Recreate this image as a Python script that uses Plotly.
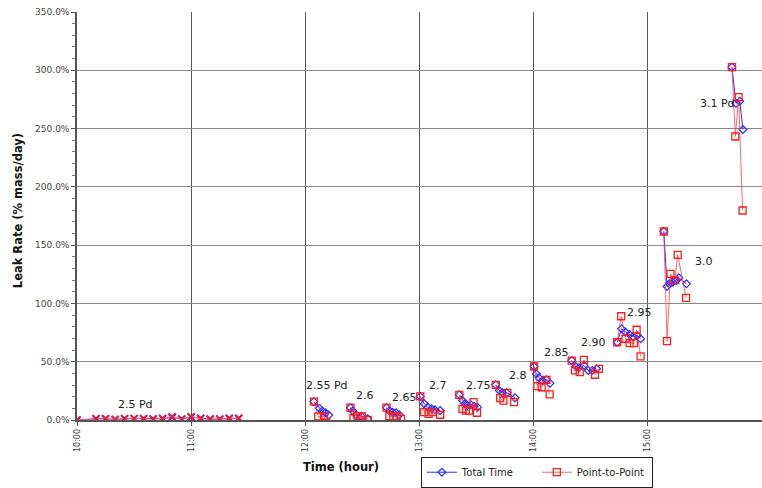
import plotly.graph_objects as go

# --- 2.5 Pd run (minutes after 10:00, leak rate in % mass/day) ---
PD25_MIN = [0, 10, 15, 20, 25, 30, 35, 40, 45, 50, 55, 60, 65, 70, 75, 80, 85]
PD25_TOTAL = [0, 1.2, 1.0, 0.5, 1.2, 1.2, 1.2, 0.8, 1.3, 2.2, 0.8, 2.5, 1.5, 0.8, 0.8, 1.5, 1.5]
PD25_P2P = [0, 1.0, 1.0, 0.5, 1.0, 1.3, 1.0, 0.8, 1.3, 3.0, 0.6, 3.0, 1.2, 0.5, 0.8, 1.2, 1.2]

# --- Pressure steps 2.55 Pd ... 3.1 Pd, runs separated by None ---
TOTAL_MIN = [
    124.5, 127.4, 128.9, 130.6, 132.3, None,
    143.7, 144.9, 146.7, 149.3, 152.8, None,
    162.7, 164.2, 165.9, 167.7, 169.4, None,
    180.4, 182.5, 184.3, 186.3, 188.1, 190.9, None,
    200.9, 202.6, 203.9, 205.2, 207.0, 208.7, 210.5, None,
    220.1, 221.9, 223.6, 225.9, 230.2, None,
    240.2, 241.4, 242.8, 244.6, 246.7, 248.6, None,
    260.0, 262.1, 263.8, 266.4, 268.7, 270.8, 273.1, None,
    283.9, 286.2, 288.3, 290.4, 292.3, 294.4, 296.2, None,
    308.4, 310.1, 311.4, 313.1, 314.8, 316.3, 320.3, None,
    344.2, 346.3, 348.3, 350.0,
]
TOTAL_VAL = [
    15.7, 10.0, 7.7, 6.3, 4.3, None,
    10.6, 7.7, 4.6, 3.4, 1.0, None,
    10.6, 7.9, 6.7, 6.2, 4.5, None,
    20.2, 13.9, 11.0, 9.6, 8.7, 8.1, None,
    21.6, 16.7, 13.9, 12.4, 13.0, 11.8, 11.0, None,
    30.2, 25.3, 23.3, 23.3, 19.0, None,
    45.9, 39.6, 36.2, 33.9, 34.5, 31.6, None,
    51.0, 45.9, 44.8, 46.8, 42.5, 42.5, 43.9, None,
    66.7, 78.2, 75.3, 73.3, 71.6, 72.5, 69.7, None,
    161.7, 114.5, 116.8, 118.2, 119.7, 122.0, 116.8, None,
    302.7, 271.8, 273.5, 249.2,
]
P2P_MIN = [
    124.5, 126.8, 129.8, 131.0, None,
    143.7, 145.3, 147.5, 149.8, 152.8, None,
    162.7, 164.2, 166.3, 168.0, 170.3, None,
    180.4, 182.5, 184.8, 186.9, 190.9, None,
    200.9, 202.6, 204.4, 206.1, 208.4, 210.2, None,
    220.1, 222.4, 224.1, 226.2, 229.7, None,
    240.2, 241.9, 244.2, 246.7, 248.4, None,
    260.0, 261.7, 264.2, 266.4, 272.2, 274.3, None,
    283.9, 286.0, 288.3, 290.4, 292.7, 294.1, 296.2, None,
    308.4, 310.1, 311.9, 314.2, 315.7, 320.1, None,
    344.2, 346.0, 347.7, 349.8,
]
P2P_VAL = [
    15.7, 3.0, 3.0, -2.0, None,
    10.6, 1.5, 3.2, 3.0, 0.0, None,
    10.6, 3.2, 3.0, 3.2, 0.9, None,
    20.2, 6.7, 5.3, 6.7, 4.5, None,
    21.6, 9.6, 8.1, 8.1, 15.3, 6.2, None,
    30.2, 18.7, 16.7, 23.3, 15.3, None,
    45.9, 29.0, 28.1, 34.5, 21.9, None,
    51.0, 42.5, 41.0, 51.6, 38.8, 43.9, None,
    66.7, 89.0, 69.7, 65.9, 65.9, 77.4, 54.5, None,
    161.7, 67.6, 125.4, 119.7, 141.7, 104.8, None,
    302.7, 243.2, 276.9, 179.7,
]

# --- Pressure step labels ---
STEP_LABELS = ["2.5 Pd", "2.55 Pd", "2.6", "2.65", "2.7", "2.75", "2.8",
               "2.85", "2.90", "2.95", "3.0", "3.1 Pd"]
STEP_LABEL_MIN = [30.9, 131.6, 151.6, 172.0, 189.9, 210.8, 231.8,
                  251.8, 271.7, 295.5, 329.4, 336.7]
STEP_LABEL_VAL = [12.9, 30.0, 20.6, 19.7, 30.0, 30.0, 38.6,
                  57.5, 66.1, 91.8, 136.4, 271.9]

HOUR_TICKS = [10, 11, 12, 13, 14, 15, 16]
HOUR_TEXT = ["10:00", "11:00", "12:00", "13:00", "14:00", "15:00", "16:00"]


def to_hours(minutes):
    return [None if m is None else 10 + m / 60 for m in minutes]


BLUE = "#2a2aff"
RED = "#ff1a1a"
FONT = "DejaVu Sans"

fig = go.Figure()

fig.add_trace(go.Scatter(
    x=to_hours(PD25_MIN), y=PD25_TOTAL, mode="lines+markers",
    line=dict(color=BLUE, width=1),
    marker=dict(symbol="x-thin-open", size=7, color=BLUE, line=dict(width=2, color=BLUE)),
    showlegend=False, hoverinfo="skip"))
fig.add_trace(go.Scatter(
    x=to_hours(PD25_MIN), y=PD25_P2P, mode="lines+markers",
    line=dict(color="#ff5a8c", width=1),
    marker=dict(symbol="x-thin-open", size=7, color=RED, line=dict(width=1.6, color=RED)),
    showlegend=False, hoverinfo="skip"))

fig.add_trace(go.Scatter(
    x=to_hours(TOTAL_MIN), y=TOTAL_VAL, mode="lines+markers", name="Total Time",
    line=dict(color=BLUE, width=1),
    marker=dict(symbol="diamond-open", size=6, color=BLUE, line=dict(width=1.2)),
    connectgaps=False))
fig.add_trace(go.Scatter(
    x=to_hours(P2P_MIN), y=P2P_VAL, mode="lines+markers", name="Point-to-Point",
    line=dict(color="#ff4040", width=0.8),
    marker=dict(symbol="square-open", size=7, color=RED, line=dict(width=1.3)),
    connectgaps=False))

for txt, m, v in zip(STEP_LABELS, STEP_LABEL_MIN, STEP_LABEL_VAL):
    fig.add_annotation(x=10 + m / 60, y=v, text=txt, showarrow=False,
                       font=dict(family=FONT, size=11, color="#222"))

# axis titles
fig.add_annotation(xref="paper", yref="paper", x=0.385, y=-0.115,
                   xanchor="center", yanchor="middle",
                   text="<b>Time (hour)</b>", showarrow=False,
                   font=dict(family=FONT, size=11.5, color="#111"))
fig.add_annotation(xref="paper", yref="paper", x=-0.086, y=0.512,
                   xanchor="center", yanchor="middle",
                   text="<b>Leak Rate (% mass/day)</b>", showarrow=False,
                   textangle=-90, font=dict(family=FONT, size=11.5, color="#111"))

fig.update_xaxes(
    range=[10, 16], tickvals=HOUR_TICKS, ticktext=HOUR_TEXT, tickangle=-90,
    tickfont=dict(family=FONT, size=8, color="#333"),
    showgrid=True, gridcolor="#5a5a5a", gridwidth=1,
    showline=True, linecolor="#555", linewidth=1.5,
    ticks="outside", ticklen=4, tickcolor="#555",
    zeroline=False, automargin=False)
fig.update_yaxes(
    range=[0, 350], dtick=50, tickformat=".1f", ticksuffix="%",
    tickfont=dict(family=FONT, size=9, color="#444"),
    showgrid=True, gridcolor="#888", gridwidth=1,
    showline=True, linecolor="#555", linewidth=1.5,
    ticks="outside", ticklen=4, tickcolor="#555",
    minor=dict(dtick=10, ticks="outside", ticklen=3, tickcolor="#777", showgrid=False),
    zeroline=False, automargin=False)

fig.update_layout(
    width=762, height=488,
    margin=dict(l=77, r=0, t=12, b=68),
    paper_bgcolor="white", plot_bgcolor="white",
    font=dict(family=FONT),
    legend=dict(orientation="h", x=0.502, y=-0.09, xanchor="left", yanchor="top",
                bordercolor="#222", borderwidth=1, bgcolor="white",
                font=dict(family=FONT, size=10, color="#222"),
                entrywidth=70, entrywidthmode="pixels"),
)

fig.write_html("out.html")
